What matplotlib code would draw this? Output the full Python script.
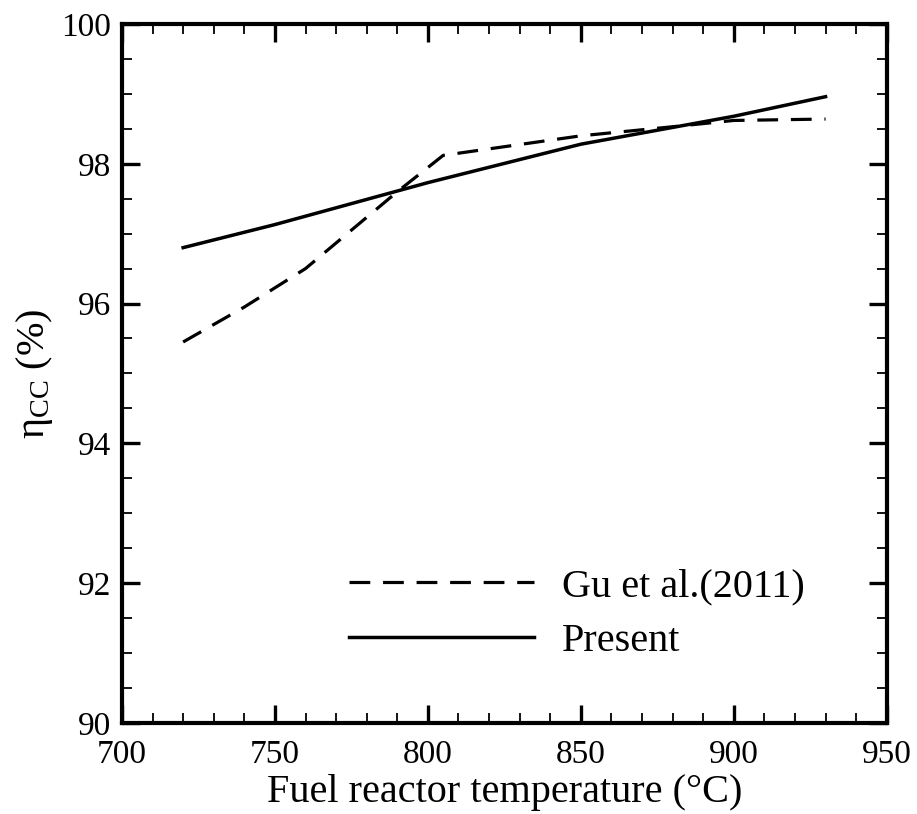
import numpy as np
import matplotlib
matplotlib.use('Agg')
import matplotlib.pyplot as plt
from matplotlib.ticker import MultipleLocator

plt.rcParams['font.family'] = ['Liberation Serif', 'DejaVu Serif']
plt.rcParams['mathtext.fontset'] = 'custom'
plt.rcParams['mathtext.rm'] = 'Liberation Serif'
plt.rcParams['mathtext.it'] = 'Liberation Serif:italic'

# Gu et al. (2011) reference data
gu_temp = [720, 740, 760, 775, 790, 805, 850, 880, 900, 930]
gu_eff  = [95.45, 95.95, 96.5, 97.05, 97.6, 98.12, 98.4, 98.53, 98.62, 98.64]

# Present model
present_temp = [720, 750, 800, 850, 900, 930]
present_eff  = [96.8, 97.13, 97.73, 98.28, 98.68, 98.96]

fig = plt.figure(figsize=(9.17, 8.14), dpi=100)
ax = fig.add_axes([0.133, 0.112, 0.834, 0.8585])

ax.plot(gu_temp, gu_eff, color='black', linewidth=2.3, linestyle=(0, (6.5, 4)),
        label='Gu et al.(2011)')
ax.plot(present_temp, present_eff, color='black', linewidth=2.5, label='Present')

ax.set_xlim(700, 950)
ax.set_ylim(90, 100)
ax.xaxis.set_major_locator(MultipleLocator(50))
ax.xaxis.set_minor_locator(MultipleLocator(10))
ax.yaxis.set_major_locator(MultipleLocator(2))
ax.yaxis.set_minor_locator(MultipleLocator(0.5))

ax.tick_params(which='both', direction='in', top=True, right=True, labelsize=24)
ax.tick_params(which='major', length=13, width=2.4)
ax.tick_params(which='minor', length=7, width=1.3)
ax.tick_params(axis='x', pad=12)
ax.tick_params(axis='y', pad=8)
for sp in ax.spines.values():
    sp.set_linewidth(3)

ax.set_xlabel('Fuel reactor temperature (°C)', fontsize=29, labelpad=3)
ax.set_ylabel(r'$\mathrm{\eta_{CC}}$ (%)', fontsize=29, labelpad=4)

ax.legend(loc='lower left', bbox_to_anchor=(0.249, 0.038), frameon=False,
          fontsize=29, handlelength=4.6, handletextpad=0.7, labelspacing=0.43)

fig.savefig('out.png', dpi=100)
